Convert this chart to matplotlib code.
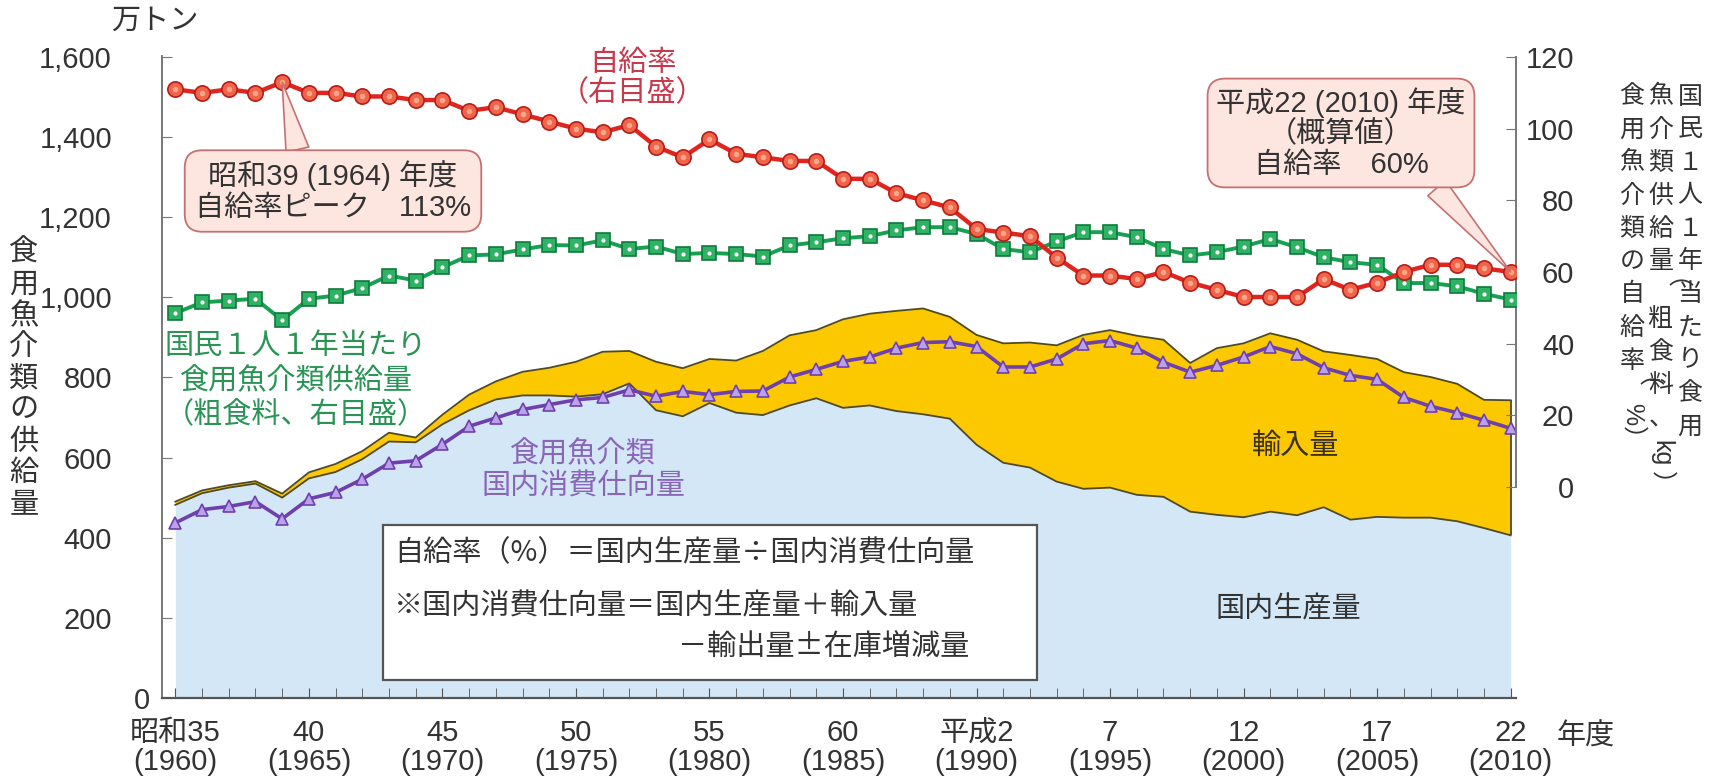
import re
import numpy as np
import matplotlib
matplotlib.use("Agg")
import matplotlib.pyplot as plt
from matplotlib.patches import Rectangle

plt.rcParams['font.family'] = ['Liberation Sans', 'Noto Sans CJK JP']

# ==========================
# DATA
# ==========================

years = list(range(1960, 2011))

# 食用魚介類 国内消費仕向量 (万トン, left axis)
consumption = [437, 470, 478, 490, 447, 497, 513, 546, 586, 592,
               633, 678, 699, 720, 732, 744, 750, 769, 753, 765,
               757, 765, 766, 801, 820, 840, 851, 873, 887, 889,
               877, 826, 826, 846, 884, 892, 873, 838, 813, 830,
               851, 877, 859, 824, 805, 795, 750, 728, 712, 693, 673]

# 国内生産量 (万トン)
domestic = [482, 511, 525, 535, 500, 548, 564, 596, 640, 638,
            683, 718, 745, 755, 755, 752, 758, 785, 718, 703,
            736, 712, 706, 730, 748, 724, 730, 716, 708, 697,
            632, 587, 575, 540, 522, 525, 507, 502, 465, 457,
            451, 465, 456, 476, 445, 452, 450, 450, 441, 424, 406]

# 輸入量 (万トン), stacked on domestic production
imports = [8, 7, 6, 6, 10, 15, 20, 20, 22, 12,
           24, 39, 45, 59, 69, 87, 106, 81, 121, 120,
           110, 130, 160, 175, 170, 221, 229, 250, 264, 254,
           274, 298, 312, 340, 384, 393, 397, 392, 371, 416,
           434, 445, 438, 389, 411, 394, 363, 351, 343, 320, 337]

# 自給率 (%, right axis)
self_rate = [111, 110, 111, 110, 113, 110, 110, 109, 109, 108,
             108, 105, 106, 104, 102, 100, 99, 101, 95, 92,
             97, 93, 92, 91, 91, 86, 86, 82, 80, 78,
             72, 71, 70, 64, 59, 59, 58, 60, 57, 55,
             53, 53, 53, 58, 55, 57, 60, 62, 62, 61, 60]

# 国民1人1年当たり食用魚介類供給量 (kg, right axis)
per_capita = [48.5, 51.5, 52.0, 52.5, 46.5, 52.5, 53.4, 55.5, 59.0, 57.6,
              61.3, 64.6, 64.9, 66.3, 67.5, 67.4, 68.8, 66.4, 67.1, 65.0,
              65.3, 65.0, 64.3, 67.4, 68.3, 69.4, 70.0, 71.6, 72.5, 72.5,
              70.6, 66.4, 65.5, 68.5, 71.1, 71.1, 69.7, 66.4, 64.6, 65.5,
              67.1, 69.2, 66.9, 64.1, 62.7, 62.0, 56.9, 56.9, 56.0, 53.9, 52.3]

xtick_years = [1960, 1965, 1970, 1975, 1980, 1985, 1990, 1995, 2000, 2005, 2010]
xtick_labels = ["昭和35\n(1960)", "40\n(1965)", "45\n(1970)", "50\n(1975)",
                "55\n(1980)", "60\n(1985)", "平成2\n(1990)", "7\n(1995)",
                "12\n(2000)", "17\n(2005)", "22\n(2010)"]
left_ticks = [0, 200, 400, 600, 800, 1000, 1200, 1400, 1600]
right_ticks = [0, 20, 40, 60, 80, 100, 120]

# ==========================
# STYLE
# ==========================

BLUE = "#d3e7f7"
YELLOW = "#fcc800"
EDGE = "#4f4a22"
RED = "#e0251f"
GREEN = "#17a052"
PURPLE = "#6f3fae"
PINK = "#fde5e0"
PINK_EDGE = "#c77070"
TXT = "#333333"
FS = 21
CJK = ['Noto Sans CJK JP', 'DejaVu Sans']

W, H = 1733, 781


def fx(px):
    return px / W


def fy(py):
    return 1 - py / H


def vertical_text(x, y_top, s, step, color=TXT, size=FS):
    # stack characters top to bottom, latin pieces and brackets turned sideways
    y = y_top
    for tok in re.findall(r"[A-Za-z%]+|.", s):
        if tok.isascii() or tok in "（）":
            rot = -90
            adv = step * 0.75 if len(tok) == 1 else step * 0.55 * len(tok)
        else:
            rot = 0
            adv = step
        fig.text(fx(x), fy(y + adv / 2), tok, rotation=rot, ha="center",
                 va="center", fontsize=size, color=color)
        y += adv


fig = plt.figure(figsize=(W / 100, H / 100), dpi=100)

ax = fig.add_axes([fx(162), fy(698), fx(1516) - fx(162), fy(56) - fy(698)])
ax.set_xlim(1959.5, 2010.2)
ax.set_ylim(0, 1602)

# ==========================
# AREAS: production + imports
# ==========================

supply_top = np.array(domestic) + np.array(imports)

ax.fill_between(years, 0, domestic, color=BLUE, lw=0, zorder=1)
ax.fill_between(years, domestic, supply_top, color=YELLOW, lw=0, zorder=1)
ax.plot(years, supply_top, color=EDGE, lw=1.3, zorder=2)
ax.plot(years, domestic, color=EDGE, lw=1.3, zorder=2)
ax.vlines(years[-1], domestic[-1], supply_top[-1], color=EDGE, lw=1.3, zorder=2)

ax.plot(years, consumption, color=PURPLE, lw=2.6, marker="^", ms=8,
        mfc="#b9a2ea", mec=PURPLE, mew=1.2, zorder=3)

# ==========================
# AXES / TICKS
# ==========================

for s in ["top", "right"]:
    ax.spines[s].set_visible(False)
ax.spines["left"].set_color("#777777")
ax.spines["left"].set_linewidth(1.4)
ax.spines["bottom"].set_color("#555555")
ax.spines["bottom"].set_linewidth(1.6)

ax.set_xticks(xtick_years)
ax.set_xticks(years, minor=True)
ax.set_xticklabels(xtick_labels, fontsize=FS, color=TXT, linespacing=1.05)
ax.tick_params(axis="x", which="both", direction="in", length=7,
               color="#555555", pad=15)

ax.set_yticks(left_ticks)
ax.set_yticklabels(["" if v == 0 else f"{v:,}" for v in left_ticks],
                   fontsize=FS, color=TXT)
ax.tick_params(axis="y", direction="in", length=7, color="#777777", pad=36)

ax2 = ax.twinx()
ax2.set_ylim(-58.98, 120.3)
for s in ["top", "left", "bottom"]:
    ax2.spines[s].set_visible(False)
ax2.spines["right"].set_bounds(0, 120)
ax2.spines["right"].set_color("#777777")
ax2.spines["right"].set_linewidth(1.4)
ax2.set_yticks(right_ticks)
ax2.set_yticklabels([str(v) for v in right_ticks], fontsize=FS, color=TXT)
ax2.tick_params(axis="y", direction="in", length=7, color="#777777", pad=42)
for lab in ax2.get_yticklabels():
    lab.set_ha("right")

# ==========================
# LINES: per capita supply, self-sufficiency rate
# ==========================

ax2.plot(years, per_capita, color=GREEN, lw=2.8, marker="s", ms=10,
         mfc="#2fb263", mec="#0e7a3c", mew=1.2, zorder=3)
ax2.plot(years, per_capita, ls="none", marker="o", ms=3, mfc="white",
         mec="none", zorder=3)
ax2.plot(years, self_rate, color=RED, lw=3.2, marker="o", ms=11,
         mfc="#f0654a", mec="#b81c18", mew=1.2, zorder=4)
ax2.plot(years, self_rate, ls="none", marker="o", ms=4, mfc="#f9a58a",
         mec="none", zorder=4)

# ==========================
# CALLOUTS
# ==========================

ax2.annotate("昭和39 (1964) 年度\n自給率ピーク　113%",
             xy=(1964, self_rate[4]), xycoords="data",
             xytext=(fx(333), fy(191)), textcoords="figure fraction",
             ha="center", va="center", fontsize=FS, color=TXT,
             linespacing=1.1, zorder=6,
             bbox=dict(boxstyle="round,pad=0.35,rounding_size=0.6",
                       fc=PINK, ec=PINK_EDGE, lw=1.3),
             arrowprops=dict(arrowstyle="wedge,tail_width=0.8,shrink_factor=0.5",
                             fc=PINK, ec=PINK_EDGE, lw=1.2,
                             relpos=(0.38, 1.0), shrinkA=0, shrinkB=0))

ax2.annotate("平成22 (2010) 年度\n（概算値）\n自給率　60%",
             xy=(2010, self_rate[-1]), xycoords="data",
             xytext=(fx(1341), fy(133)), textcoords="figure fraction",
             ha="center", va="center", fontsize=FS, color=TXT,
             linespacing=1.1, zorder=6,
             bbox=dict(boxstyle="round,pad=0.3,rounding_size=0.6",
                       fc=PINK, ec=PINK_EDGE, lw=1.3),
             arrowprops=dict(arrowstyle="wedge,tail_width=0.8,shrink_factor=0.5",
                             fc=PINK, ec=PINK_EDGE, lw=1.2,
                             relpos=(0.85, 0.0), shrinkA=0, shrinkB=0))

# ==========================
# LABELS
# ==========================

fig.text(fx(633), fy(78), "自給率\n（右目盛）", ha="center", va="center",
         fontsize=FS, color="#c8394c", linespacing=1.1)

fig.text(fx(296), fy(381), "国民１人１年当たり\n食用魚介類供給量\n（粗食料、右目盛）",
         ha="center", va="center", fontsize=FS, color="#2a9455",
         linespacing=1.3)

fig.text(fx(583), fy(470), "食用魚介類\n国内消費仕向量", ha="center",
         va="center", fontsize=FS, color="#8a66b8", linespacing=1.2)

fig.text(fx(1296), fy(446), "輸入量", ha="center", va="center",
         fontsize=FS, color="#3a3020")
fig.text(fx(1288), fy(609), "国内生産量", ha="center", va="center",
         fontsize=FS, color=TXT)

# formula box
fig.add_artist(Rectangle((fx(383), fy(680)), fx(1037) - fx(383),
                         fy(525) - fy(680), transform=fig.transFigure,
                         fc="white", ec="#555555", lw=1.6, zorder=5))
fig.text(fx(394), fy(553), "自給率（%）＝国内生産量÷国内消費仕向量",
         ha="left", va="center", fontsize=FS, color=TXT, zorder=6,
         family=CJK)
fig.text(fx(394), fy(606), "※国内消費仕向量＝国内生産量＋輸入量",
         ha="left", va="center", fontsize=FS, color=TXT, zorder=6,
         family=CJK)
fig.text(fx(678), fy(647), "－輸出量±在庫増減量",
         ha="left", va="center", fontsize=FS, color=TXT, zorder=6,
         family=CJK)

# axis titles
fig.text(fx(155), fy(21), "万トン", ha="center", va="center",
         fontsize=FS, color=TXT)
fig.text(fx(142), fy(701), "0", ha="center", va="center",
         fontsize=FS, color=TXT)
fig.text(fx(1586), fy(737), "年度", ha="center", va="center",
         fontsize=FS, color=TXT)

vertical_text(24, 237, "食用魚介類の供給量", 31.5)
vertical_text(1690, 80, "国民１人１年当たり食用", 33, size=18)
vertical_text(1661, 80, "魚介類供給量（粗食料、kg）", 33, size=18)
vertical_text(1632, 80, "食用魚介類の自給率（%）", 33, size=18)

fig.savefig("out.png", dpi=100)
